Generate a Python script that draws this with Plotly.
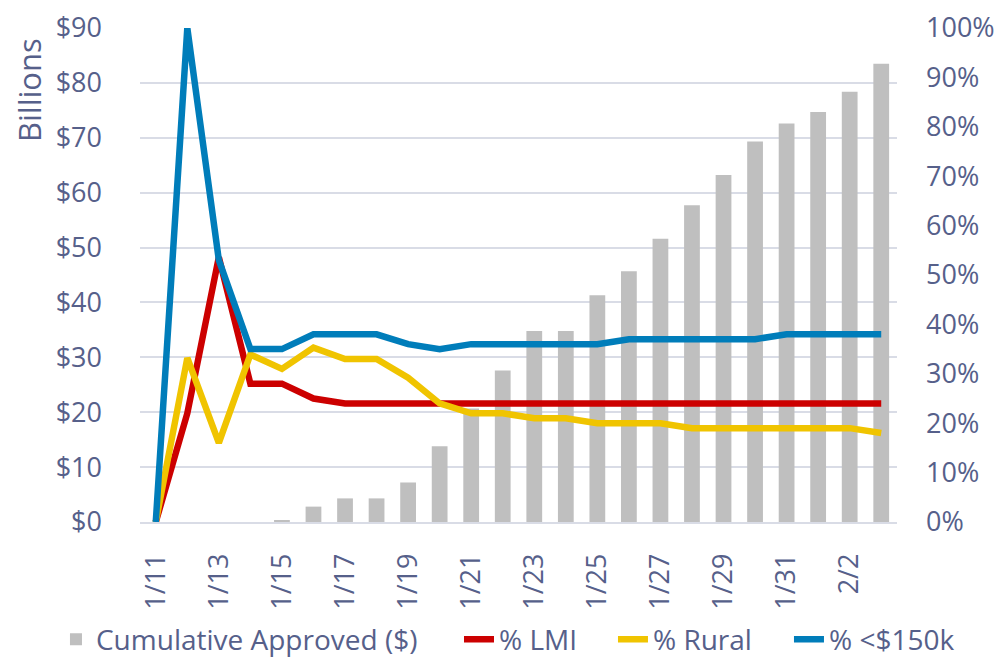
import plotly.graph_objects as go

dates = ["1/11", "1/12", "1/13", "1/14", "1/15", "1/16", "1/17", "1/18", "1/19", "1/20",
         "1/21", "1/22", "1/23", "1/24", "1/25", "1/26", "1/27", "1/28", "1/29", "1/30",
         "1/31", "2/1", "2/2", "2/3"]
tick_labels = ["1/11", "1/13", "1/15", "1/17", "1/19", "1/21", "1/23", "1/25", "1/27",
               "1/29", "1/31", "2/2"]

cumulative_approved = [0, 0, 0, 0, 0.3, 2.8, 4.3, 4.3, 7.2, 13.8,
                       20.7, 27.6, 34.8, 34.8, 41.3, 45.7, 51.6, 57.7, 63.2, 69.3,
                       72.6, 74.7, 78.4, 83.5]
pct_lmi = [0, 22, 53.6, 28, 28, 25, 24, 24, 24, 24,
           24, 24, 24, 24, 24, 24, 24, 24, 24, 24,
           24, 24, 24, 24]
pct_rural = [0, 33.2, 16, 33.9, 31, 35.3, 33, 33, 29.2, 24,
             22, 22, 21, 21, 20, 20, 20, 19, 19, 19,
             19, 19, 19, 18]
pct_small = [0, 100, 53, 35, 35, 38, 38, 38, 36, 35,
             36, 36, 36, 36, 36, 37, 37, 37, 37, 37,
             38, 38, 38, 38]

TEXT = "#56608a"
GRID = "#d9dce6"
FONT = "Open Sans, Noto Sans, sans-serif"
FS = 27
LFS = 28

fig = go.Figure()
fig.add_trace(go.Bar(x=dates, y=cumulative_approved, name="Cumulative Approved ($)",
                     marker=dict(color="#bfbfbf", line=dict(width=0)), yaxis="y",
                     legend="legend"))
fig.add_trace(go.Scatter(x=dates, y=[v / 100 for v in pct_lmi], name="% LMI", mode="lines",
                         line=dict(color="#cc0000", width=6.5), yaxis="y2", legend="legend2"))
fig.add_trace(go.Scatter(x=dates, y=[v / 100 for v in pct_rural], name="% Rural", mode="lines",
                         line=dict(color="#f0c400", width=6.5), yaxis="y2", legend="legend3"))
fig.add_trace(go.Scatter(x=dates, y=[v / 100 for v in pct_small], name="% &lt;$150k", mode="lines",
                         line=dict(color="#007dba", width=6.5), yaxis="y2", legend="legend4"))


def leg(x):
    return dict(orientation="h", xref="paper", yref="paper", x=x, xanchor="left",
                y=-0.238, yanchor="middle", font=dict(size=LFS, color=TEXT),
                bgcolor="rgba(0,0,0,0)", itemwidth=30)


fig.update_layout(
    width=997, height=655,
    margin=dict(l=132, r=108, t=20, b=141, autoexpand=False),
    paper_bgcolor="white", plot_bgcolor="white",
    font=dict(family=FONT, size=FS, color=TEXT),
    bargap=0.5,
    showlegend=True,
    hovermode=False,
    xaxis=dict(type="category", categoryorder="array", categoryarray=dates,
               tickmode="array", tickvals=tick_labels, ticktext=tick_labels,
               tickangle=-90, showgrid=False, showline=True, linecolor=GRID, linewidth=1.5,
               ticks="", automargin=False, ticklabelstandoff=19,
               tickfont=dict(size=FS, color=TEXT)),
    yaxis=dict(range=[0, 90], dtick=10, tickprefix="$", showgrid=True, gridcolor=GRID,
               gridwidth=1.5, zeroline=False, showline=False, ticks="", automargin=False,
               ticklabelstandoff=37, ticklabeloverflow="allow",
               tickfont=dict(size=FS, color=TEXT)),
    yaxis2=dict(range=[0, 1], dtick=0.1, tickformat=".0%", overlaying="y", side="right",
                showgrid=False, zeroline=False, showline=False, ticks="", automargin=False,
                ticklabelstandoff=28, ticklabeloverflow="allow",
                tickfont=dict(size=FS, color=TEXT)),
    legend=leg(-0.111),
    legend2=leg(0.4214),
    legend3=leg(0.6248),
    legend4=leg(0.8573),
    annotations=[dict(text="Billions", xref="paper", yref="paper", x=0, xshift=-111,
                      y=1, yshift=-8, yanchor="top", xanchor="center", textangle=-90,
                      showarrow=False, font=dict(size=31, color=TEXT))],
)

fig.write_html("out.html")
